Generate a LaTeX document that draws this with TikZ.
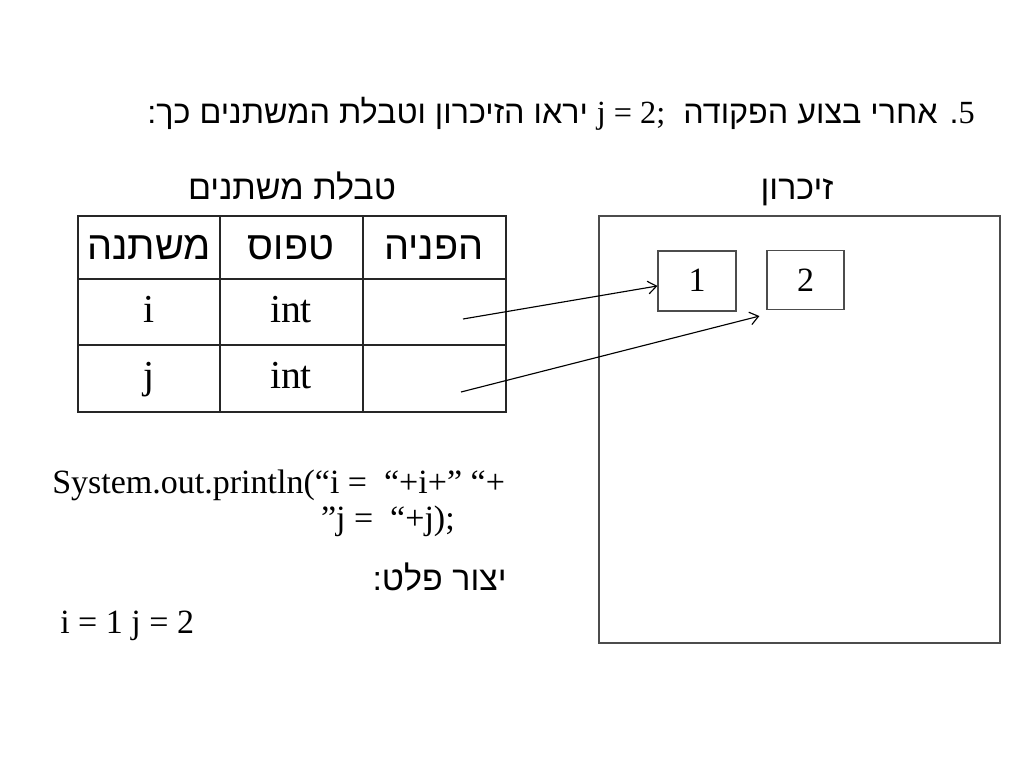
\documentclass[tikz,border=0pt]{standalone}
\usepackage{fontspec}
\usetikzlibrary{arrows.meta}
\setmainfont{Liberation Serif}
\newfontfamily\heb[Script=Hebrew]{Liberation Sans}
\TeXXeTstate=1
\newlength{\px}\setlength{\px}{0.70576pt}
\tikzset{
  grid/.style={draw=black!85, line width=0.9pt},
  membox/.style={draw=black!70, line width=0.8pt, minimum width=77\px, minimum height=59\px, inner sep=0pt, font=\fontsize{24}{28}\selectfont},
  cell/.style={font=\fontsize{28}{32}\selectfont, inner sep=0pt},
  hcell/.style={font=\heb\fontsize{28}{32}\selectfont, inner sep=0pt},
  arr/.style={-{Straight Barb[length=6pt,width=9pt,line width=0.8pt]}, line width=0.8pt, black},
  txt/.style={font=\fontsize{24}{28}\selectfont, inner sep=0pt},
  htxt/.style={font=\heb\fontsize{24}{28}\selectfont, inner sep=0pt}
}
\begin{document}
\begin{tikzpicture}[x=0.70576pt,y=-0.70576pt]
\useasboundingbox (0,0) rectangle (1024,768);
% title
\node[htxt, font=\heb\fontsize{22.8}{26}\selectfont, anchor=base east] (title) at (975,124) {\beginR{\rmfamily 5}. אחרי בצוע הפקודה \ \beginL{\rmfamily j = 2;}\endL\ יראו הזיכרון וטבלת המשתנים כך:\endR};
% headings
\node[htxt, anchor=base] (tabtitle) at (292,200) {\beginR טבלת משתנים\endR};
\node[htxt, anchor=base] (memtitle) at (797,200) {\beginR זיכרון\endR};
% table
\draw[grid] (78,216) rectangle (506,412);
\draw[grid] (78,279) -- (506,279);
\draw[grid] (78,345) -- (506,345);
\draw[grid] (220,216) -- (220,412);
\draw[grid] (363,216) -- (363,412);
\node[hcell, anchor=base] (h1) at (149,259) {\beginR משתנה\endR};
\node[hcell, anchor=base] (h2) at (291,259) {\beginR טפוס\endR};
\node[hcell, anchor=base] (h3) at (434,259) {\beginR הפניה\endR};
\node[cell, anchor=base] (r1a) at (149,322) {i};
\node[cell, anchor=base] (r1b) at (291,322) {int};
\node[cell, anchor=base] (r2a) at (149,388) {j};
\node[cell, anchor=base] (r2b) at (291,388) {int};
\coordinate (p1) at (463,319);
\coordinate (p2) at (461,392);
% memory
\draw[draw=black!70, line width=0.8pt] (599,216) rectangle (1000,643);
\node[membox, minimum width=78\px, minimum height=60\px] (box1) at (697,281) {\raisebox{2\px}{1}\hspace{11\px}};
\node[membox] (box2) at (805.5,280) {\raisebox{-3.5\px}{2}\hspace{4\px}};
\draw[arr] (p1) -- ([yshift=-3.5pt]box1.west);
\draw[arr] (p2) -- ([shift={(-7,6)}]box2.south west);
% code
\node[txt, anchor=base west] (code1) at (52,493) {System.out.println(“i = \ “+i+” “+};
\node[txt, anchor=base east] (code2) at (455,529) {”j = \ “+j);};
\node[htxt, anchor=base east] (out) at (507,590) {\beginR יצור פלט:\endR};
\node[txt, anchor=base west] (res) at (60,633) {i = 1 j = 2};
\end{tikzpicture}
\end{document}
